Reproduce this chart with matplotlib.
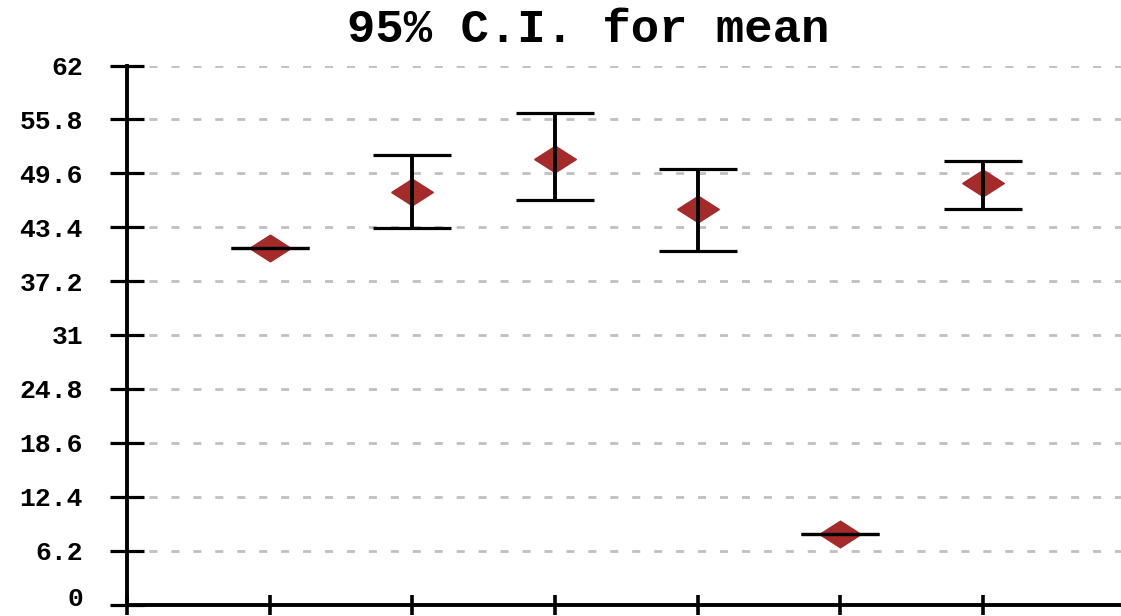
import numpy as np
import matplotlib
matplotlib.use('Agg')
import matplotlib.pyplot as plt
from matplotlib.transforms import ScaledTranslation

# values
groups = [1, 2, 3, 4, 5, 6]
means = [41.0, 47.4, 51.3, 45.5, 8.07, 48.45]
ci_upper = [41.0, 51.7, 56.5, 50.06, 8.07, 50.98]
ci_lower = [41.0, 43.27, 46.53, 40.63, 8.07, 45.46]
y_ticks = [0, 6.2, 12.4, 18.6, 24.8, 31, 37.2, 43.4, 49.6, 55.8, 62]
y_tick_labels = ['0', '6.2', '12.4', '18.6', '24.8', '31', '37.2', '43.4', '49.6', '55.8', '62']
title = '95% C.I. for mean'

W, H = 1121, 616
fig = plt.figure(figsize=(W / 100, H / 100), dpi=100)
ax = fig.add_axes([127 / W, (H - 604.5) / H, 7 * 142.7 / W, 539 / H])

mono = 'Liberation Mono'

# flattened diamond marker
diamond = [(-1, 0), (0, 0.64), (1, 0), (0, -0.64), (-1, 0)]

means = np.array(means)
yerr = np.array([means - np.array(ci_lower), np.array(ci_upper) - means])

ax.plot(groups, means, linestyle='none', marker=diamond, markersize=30,
        color='#a52a2a', zorder=3)
ax.errorbar(groups, means, yerr=yerr, fmt='none', ecolor='black',
            elinewidth=2.8, capsize=28, capthick=2.3, zorder=4)

ax.set_xlim(0, 7)
ax.set_ylim(0, 62)
ax.set_xticks(range(0, 7))
ax.set_xticklabels([])
ax.set_yticks(y_ticks)
ax.set_yticklabels([])

ax.tick_params(axis='y', direction='inout', length=24, width=2.3)
ax.tick_params(axis='x', direction='inout', length=15, width=2.6)

# y labels drawn by hand so the bottom one can sit inside the canvas
trans = ax.get_yaxis_transform()
for v, lab in zip(y_ticks, y_tick_labels):
    t = trans
    va = 'center_baseline'
    if v == 0:
        t = trans + ScaledTranslation(0, 4 / 72, fig.dpi_scale_trans)
        va = 'center'
    ax.text(-0.044, v, lab, transform=t, ha='right', va=va,
            fontfamily=mono, fontweight='bold', fontsize=19, clip_on=False)

for s in ['top', 'right']:
    ax.spines[s].set_visible(False)
for s in ['left', 'bottom']:
    ax.spines[s].set_linewidth(2.8)

ax.grid(axis='y', color='#c0c0c0', linewidth=2.0, linestyle=(0, (2.9, 5.0)), zorder=0)
ax.set_axisbelow(True)

fig.text(588.5 / W, 1 - 42 / H, title, ha='center', va='baseline',
         fontfamily=mono, fontweight='bold', fontsize=34)

fig.savefig('out.png', dpi=100)
